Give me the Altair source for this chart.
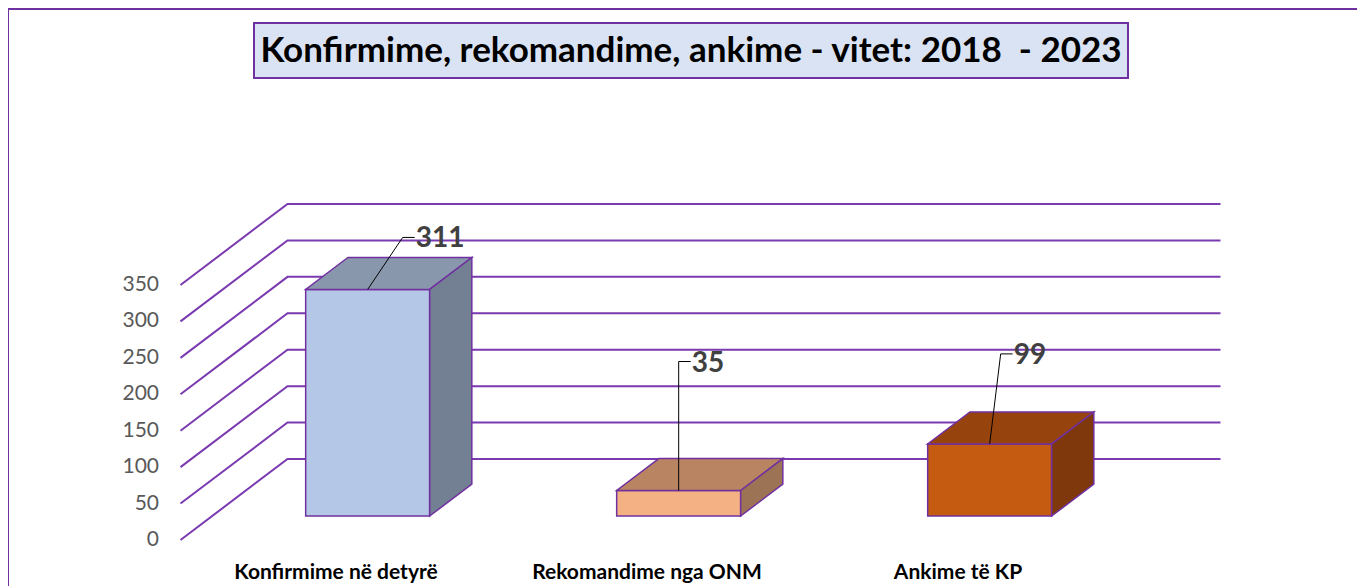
import altair as alt
import pandas as pd

# ---------------- data ----------------
categories = ["Konfirmime në detyrë", "Rekomandime nga ONM", "Ankime të KP"]
values = [311, 35, 99]
tick_values = [0, 50, 100, 150, 200, 250, 300, 350]
title_text = "Konfirmime, rekomandime, ankime - vitet: 2018\u00a0 - 2023"

# ---------------- styles ----------------
front_colors = ["#B4C7E7", "#F4B183", "#C55A11"]
top_colors = ["#8997AD", "#B98461", "#97430E"]
side_colors = ["#737F93", "#9C7355", "#7F380C"]
PURPLE = "#7030A0"
GRID = "#7A3AB0"
FONT = "Lato"

# ---------------- layout (pixels) ----------------
PAGE = 8
W, H = 1349, 578
X0_PX, STEP_PX = 336, 311          # page x of first category on the front plane
Y0_PX, SY = 540, 0.7286            # page y of value 0 on the front plane, px per unit
DEPTH_DX_PX, DEPTH_DY_PX = 107, 81  # 3-D depth offset
D0, D1 = 0.296, 0.69               # bar depth (front / back) as fraction of depth
BAR_W_PX = 124
LEAD_DX_PX = [35, 0, 11]
LEAD_DY_PX = [52, 129, 90]
LEAD_H_PX = 12

DX = DEPTH_DX_PX / STEP_PX
DY = DEPTH_DY_PX / SY
HALF = BAR_W_PX / 2 / STEP_PX

xdom = [-(X0_PX - PAGE) / STEP_PX, (W - (X0_PX - PAGE)) / STEP_PX]
ydom = [(Y0_PX - PAGE - H) / SY, (Y0_PX - PAGE) / SY]
XS = alt.Scale(domain=xdom, nice=False, zero=False)
YS = alt.Scale(domain=ydom, nice=False, zero=False)

# ---------------- derived tables ----------------
grid_rows = []
for t in tick_values:
    for k, (xf, d) in enumerate([(-0.5, 0), (-0.5, 1), (2.5, 1)]):
        grid_rows.append({"t": t, "k": k, "x": xf + DX * d, "y": t + DY * d})
grid_df = pd.DataFrame(grid_rows)

front_rows, top_rows, side_rows, lead_rows, lab_rows = [], [], [], [], []
for i, (cat, v) in enumerate(zip(categories, values)):
    c = i + DX * D0
    sh = DX * (D1 - D0)
    front_rows.append({"cat": cat, "xa": c - HALF, "xb": c + HALF,
                       "ya": DY * D0, "yb": v + DY * D0})
    top_rows.append({"cat": cat, "y": v + DY * D0, "xa": c - HALF, "xb": c + HALF})
    top_rows.append({"cat": cat, "y": v + DY * D1, "xa": c - HALF + sh, "xb": c + HALF + sh})
    side_rows.append({"cat": cat, "x": c + HALF, "ya": DY * D0, "yb": v + DY * D0})
    side_rows.append({"cat": cat, "x": c + HALF + sh, "ya": DY * D1, "yb": v + DY * D1})
    p0 = (c, v + DY * D0)
    p1 = (p0[0] + LEAD_DX_PX[i] / STEP_PX, p0[1] + LEAD_DY_PX[i] / SY)
    p2 = (p1[0] + LEAD_H_PX / STEP_PX, p1[1])
    for k, p in enumerate([p0, p1, p2]):
        lead_rows.append({"cat": cat, "k": k, "x": p[0], "y": p[1]})
    lab_rows.append({"cat": cat, "label": str(v), "x": p2[0], "y": p2[1]})

front_df = pd.DataFrame(front_rows)
top_df = pd.DataFrame(top_rows)
side_df = pd.DataFrame(side_rows)
lead_df = pd.DataFrame(lead_rows)
lab_df = pd.DataFrame(lab_rows)
tick_df = pd.DataFrame({"t": tick_values})
cat_df = pd.DataFrame({"cat": categories, "i": list(range(len(categories)))})

# ---------------- layers ----------------
border = alt.Chart(pd.DataFrame({"a": [0]})).mark_rect(
    fillOpacity=0, stroke=PURPLE, strokeWidth=2
).encode(x=alt.value(0), x2=alt.value(1500), y=alt.value(1), y2=alt.value(800))

title_box = alt.Chart(pd.DataFrame({"a": [0]})).mark_rect(
    fill="#DAE3F3", stroke=PURPLE, strokeWidth=2
).encode(x=alt.value(246), x2=alt.value(1120), y=alt.value(15), y2=alt.value(70))

title = alt.Chart(pd.DataFrame({"t": [title_text]})).mark_text(
    font=FONT, fontSize=35, fontWeight="bold", color="#000000",
    align="center", baseline="middle"
).encode(x=alt.value(683), y=alt.value(43), text="t:N")

grid = alt.Chart(grid_df).mark_line(color=GRID, strokeWidth=2).encode(
    x=alt.X("x:Q", scale=XS, axis=None),
    y=alt.Y("y:Q", scale=YS, axis=None),
    detail="t:N", order="k:Q")

ticks = alt.Chart(tick_df).mark_text(
    font=FONT, fontSize=21, color="#595959", align="right", baseline="middle"
).encode(x=alt.value(151), y=alt.Y("t:Q", scale=YS, axis=None), text="t:Q")

front = alt.Chart(front_df).mark_rect(stroke=PURPLE, strokeWidth=1.5).encode(
    x=alt.X("xa:Q", scale=XS, axis=None), x2="xb:Q",
    y=alt.Y("ya:Q", scale=YS, axis=None), y2="yb:Q",
    color=alt.Color("cat:N", scale=alt.Scale(domain=categories, range=front_colors), legend=None))

top = alt.Chart(top_df).mark_area(orient="horizontal", stroke=PURPLE, strokeWidth=1.5, opacity=1).encode(
    y=alt.Y("y:Q", scale=YS, axis=None),
    x=alt.X("xa:Q", scale=XS, axis=None), x2="xb:Q",
    detail="cat:N",
    color=alt.Color("cat:N", scale=alt.Scale(domain=categories, range=top_colors), legend=None))

side = alt.Chart(side_df).mark_area(orient="vertical", stroke=PURPLE, strokeWidth=1.5, opacity=1).encode(
    x=alt.X("x:Q", scale=XS, axis=None),
    y=alt.Y("ya:Q", scale=YS, axis=None), y2="yb:Q",
    detail="cat:N",
    color=alt.Color("cat:N", scale=alt.Scale(domain=categories, range=side_colors), legend=None))

leaders = alt.Chart(lead_df).mark_line(color="#000000", strokeWidth=1).encode(
    x=alt.X("x:Q", scale=XS, axis=None),
    y=alt.Y("y:Q", scale=YS, axis=None),
    detail="cat:N", order="k:Q")

labels = alt.Chart(lab_df).mark_text(
    font=FONT, fontSize=28, fontWeight="bold", color="#404040",
    align="left", baseline="middle", dx=1, dy=2
).encode(x=alt.X("x:Q", scale=XS, axis=None), y=alt.Y("y:Q", scale=YS, axis=None), text="label:N")

cat_labels = alt.Chart(cat_df).mark_text(
    font=FONT, fontSize=21, fontWeight="bold", color="#000000",
    align="center", baseline="middle"
).encode(x=alt.X("i:Q", scale=XS, axis=None), y=alt.value(565), text="cat:N")

chart = alt.layer(
    border, title_box, title, grid, ticks, front, top, side, leaders, labels, cat_labels
).resolve_scale(color="independent").properties(
    width=W, height=H, padding=0,
    autosize=alt.AutoSizeParams(type="none"),
    background="#FFFFFF",
).configure_view(stroke=None)

chart.save("out.html", embed_options={"renderer": "svg", "actions": False})
